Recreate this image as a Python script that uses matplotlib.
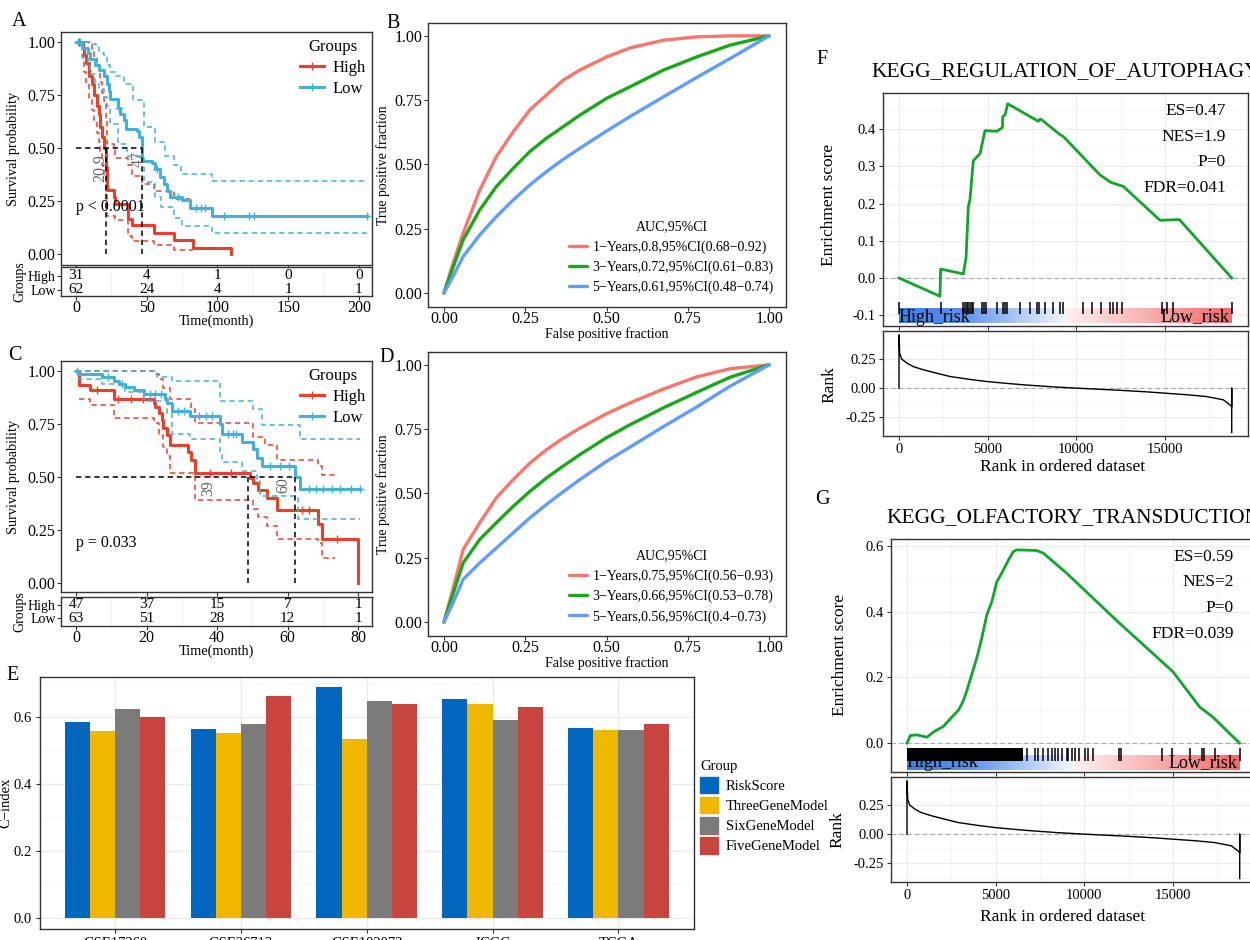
import numpy as np
import matplotlib
matplotlib.use("Agg")
import matplotlib.pyplot as plt
from matplotlib.colors import LinearSegmentedColormap
from matplotlib.lines import Line2D
from matplotlib.patches import Patch

plt.rcParams['font.family'] = ['Liberation Serif', 'DejaVu Serif']
plt.rcParams['axes.unicode_minus'] = False

W, H = 1250, 940

KM_RED = '#E8412B'
KM_BLUE = '#42B2D8'
ROC_COLORS = ['#F8766D', '#18A818', '#619CFF']

# ---------------- A: survival, first cohort ----------------
a_high_t = [0, 4.7, 5.4, 7.3, 9.0, 11.3, 13.0, 14.9, 16.0, 17.2, 18.5, 19.6, 20.9, 21.9,
            26.7, 27.8, 36.5, 39.6, 55.0, 69.6, 82.5, 109.7]
a_high_s = [1.0, 0.97, 0.94, 0.90, 0.84, 0.80, 0.75, 0.70, 0.66, 0.60, 0.55, 0.50, 0.41, 0.30,
            0.27, 0.235, 0.165, 0.135, 0.10, 0.065, 0.03, 0.0]
a_high_up_t = [0, 7.3, 9.0, 11.3, 13.0, 14.9, 16.0, 17.2, 18.5, 19.6, 20.9, 21.9, 26.7, 27.8,
               36.5, 39.6, 47.0, 55.0, 69.6]
a_high_up = [1.0, 1.0, 0.985, 0.96, 0.93, 0.89, 0.86, 0.81, 0.76, 0.72, 0.64, 0.52, 0.49, 0.455,
             0.42, 0.37, 0.33, 0.295, 0.26]
a_high_lo_t = [0, 4.7, 5.4, 7.3, 9.0, 11.3, 13.0, 14.9, 16.0, 17.2, 18.5, 19.6, 20.9, 21.9,
               27.8, 36.5, 39.6, 55.0, 69.6]
a_high_lo = [1.0, 0.91, 0.86, 0.80, 0.73, 0.68, 0.63, 0.57, 0.53, 0.47, 0.42, 0.37, 0.28, 0.18,
             0.16, 0.085, 0.06, 0.04, 0.017]
a_high_ci_end = 82.5
a_high_cens = [2.0]

a_low_t = [0, 4.2, 8.3, 10.1, 13.7, 16.5, 19.6, 21.9, 23.1, 24.3, 29.5, 31.4, 33.7, 35.6, 43.2,
           44.3, 47.0, 53.8, 56.1, 59.7, 62.0, 64.4, 66.7, 75.0, 80.9, 96.2]
a_low_s = [1.0, 0.97, 0.95, 0.92, 0.89, 0.87, 0.84, 0.80, 0.77, 0.73, 0.69, 0.66, 0.63, 0.59, 0.58,
           0.55, 0.44, 0.43, 0.40, 0.365, 0.33, 0.295, 0.27, 0.255, 0.215, 0.18]
a_low_up_t = [0, 10.0, 14.0, 16.5, 19.6, 21.9, 24.3, 27.8, 33.7, 40.0, 48.0, 56.0, 63.0, 69.0, 74.0, 96.2]
a_low_up = [1.0, 0.99, 0.975, 0.95, 0.93, 0.89, 0.86, 0.84, 0.80, 0.725, 0.60, 0.53, 0.46, 0.42,
            0.375, 0.342]
a_low_lo_t = [0, 4.2, 8.3, 10.1, 13.7, 16.5, 19.6, 21.9, 24.3, 30.0, 36.0, 48.0, 56.0, 60.0, 69.0,
              75.0, 96.2]
a_low_lo = [1.0, 0.93, 0.90, 0.85, 0.81, 0.78, 0.74, 0.70, 0.615, 0.52, 0.46, 0.34, 0.27, 0.22,
            0.17, 0.13, 0.097]
a_low_end = 206.0
a_low_cens = [1.5, 3.0, 30.5, 57.0, 72.0, 85.0, 88.0, 91.0, 104.5, 122.0, 125.7, 206.0]

a_medians = [20.9, 47.0]
a_times = [0, 50, 100, 150, 200]
a_risk_high = [31, 4, 1, 0, 0]
a_risk_low = [62, 24, 4, 1, 1]

# ---------------- C: survival, second cohort ----------------
c_high_t = [0, 0.75, 4.1, 10.7, 22.0, 22.5, 23.5, 24.3, 24.8, 25.8, 26.7, 31.9, 32.5, 33.8,
            49.4, 50.3, 51.7, 54.1, 56.9, 68.7, 69.7, 80.1]
c_high_s = [1.0, 0.935, 0.91, 0.87, 0.85, 0.83, 0.80, 0.77, 0.73, 0.70, 0.65, 0.62, 0.58, 0.52,
            0.495, 0.47, 0.44, 0.40, 0.345, 0.28, 0.21, 0.0]
c_high_up_t = [0, 22.0, 23.5, 24.8, 26.7, 32.5, 33.8, 50.3, 53.6, 56.9, 68.7, 69.7]
c_high_up = [1.0, 0.985, 0.96, 0.92, 0.87, 0.82, 0.756, 0.69, 0.65, 0.58, 0.55, 0.51]
c_high_lo_t = [0.75, 4.1, 10.7, 22.0, 23.5, 24.8, 25.8, 26.7, 33.8, 50.3, 51.7, 54.1, 56.9, 68.7, 69.7]
c_high_lo = [0.87, 0.84, 0.78, 0.755, 0.70, 0.64, 0.60, 0.52, 0.39, 0.35, 0.31, 0.27, 0.21, 0.19, 0.12]
c_high_ci_end = 73.5
c_high_cens = [6.0, 12.0, 15.5, 19.0, 38.0, 44.0, 64.0, 66.0, 74.0]

c_low_t = [0, 0.5, 7.4, 10.7, 12.2, 14.0, 16.4, 19.2, 25.3, 25.8, 27.2, 32.4, 40.8, 41.3, 47.0,
           50.3, 51.3, 52.7, 62.1, 63.5]
c_low_s = [1.0, 0.985, 0.97, 0.955, 0.94, 0.925, 0.91, 0.89, 0.87, 0.85, 0.81, 0.79, 0.75, 0.705,
           0.667, 0.63, 0.59, 0.55, 0.50, 0.445]
c_low_up_t = [0, 22.9, 27.2, 40.8, 50.3, 52.7, 63.5]
c_low_up = [1.0, 0.97, 0.955, 0.86, 0.82, 0.745, 0.68]
c_low_lo_t = [0, 0.5, 7.4, 14.0, 19.2, 25.8, 27.2, 32.4, 40.8, 41.3, 47.0, 51.3, 52.2, 63.1]
c_low_lo = [1.0, 0.96, 0.94, 0.90, 0.86, 0.80, 0.705, 0.68, 0.61, 0.57, 0.53, 0.48, 0.41, 0.30]
c_low_end = 80.6
c_low_cens = [0.3, 9.0, 13.0, 21.0, 22.5, 24.0, 29.0, 30.5, 35.0, 37.0, 38.5, 43.0, 44.5, 45.5,
              55.0, 58.0, 60.5, 66.0, 68.0, 70.0, 72.5, 75.0, 78.0, 80.6]

c_medians = [48.9, 62.1]
c_median_labels = ['39', '60']
c_times = [0, 20, 40, 60, 80]
c_risk_high = [47, 37, 15, 7, 1]
c_risk_low = [63, 51, 28, 12, 1]

# ---------------- B / D: time-dependent ROC ----------------
roc_fpr = [0, 0.028, 0.059, 0.11, 0.161, 0.213, 0.264, 0.315, 0.367, 0.418, 0.5, 0.572, 0.675,
           0.777, 0.88, 1.0]
b_tpr = [[0, 0.116, 0.233, 0.40, 0.53, 0.627, 0.712, 0.77, 0.828, 0.867, 0.918, 0.953, 0.983, 0.996, 1.0, 1.0],
         [0, 0.10, 0.207, 0.323, 0.414, 0.485, 0.55, 0.602, 0.647, 0.692, 0.757, 0.802, 0.867, 0.918, 0.964, 1.0],
         [0, 0.065, 0.142, 0.226, 0.297, 0.362, 0.42, 0.472, 0.52, 0.563, 0.63, 0.686, 0.763, 0.838, 0.912, 1.0]]
b_labels = ['1\u2212Years,0.8,95%CI(0.68\u22120.92)',
            '3\u2212Years,0.72,95%CI(0.61\u22120.83)',
            '5\u2212Years,0.61,95%CI(0.48\u22120.74)']

d_tpr = [[0, 0.13, 0.282, 0.386, 0.483, 0.554, 0.618, 0.67, 0.715, 0.754, 0.81, 0.852, 0.906, 0.953, 0.985, 1.0],
         [0, 0.11, 0.23, 0.321, 0.386, 0.45, 0.508, 0.56, 0.607, 0.651, 0.717, 0.767, 0.833, 0.893, 0.952, 1.0],
         [0, 0.075, 0.166, 0.23, 0.288, 0.347, 0.405, 0.457, 0.507, 0.554, 0.625, 0.68, 0.76, 0.836, 0.917, 1.0]]
d_labels = ['1\u2212Years,0.75,95%CI(0.56\u22120.93)',
            '3\u2212Years,0.66,95%CI(0.53\u22120.78)',
            '5\u2212Years,0.56,95%CI(0.4\u22120.73)']

# ---------------- E: C-index ----------------
e_cohorts = ['GSE17260', 'GSE26712', 'GSE102073', 'ICGC', 'TCGA']
e_models = ['RiskScore', 'ThreeGeneModel', 'SixGeneModel', 'FiveGeneModel']
e_colors = ['#0066BE', '#EFB800', '#7B7B7B', '#C8443F']
e_riskscore = [0.586, 0.565, 0.688, 0.654, 0.567]
e_three = [0.558, 0.551, 0.534, 0.638, 0.561]
e_six = [0.623, 0.578, 0.647, 0.590, 0.561]
e_five = [0.600, 0.661, 0.639, 0.630, 0.579]

# ---------------- F / G: GSEA ----------------
f_es_x = [0, 2310, 2350, 3630, 3780, 3910, 4000, 4190, 4570, 4850, 5510, 5830, 5850, 5980, 6130,
          7860, 7950, 8050, 9080, 9270, 11330, 11940, 12650, 14720, 15810, 18760]
f_es_y = [0.0, -0.049, 0.024, 0.011, 0.054, 0.192, 0.21, 0.315, 0.334, 0.396, 0.394, 0.404, 0.434,
          0.438, 0.468, 0.421, 0.427, 0.425, 0.385, 0.380, 0.277, 0.257, 0.246, 0.155, 0.157, 0.0]
f_hits = [0, 2368, 3628, 3722, 3816, 3910, 4004, 4098, 4192, 4662, 4794, 4906, 5508, 5846, 5978,
          6110, 6823, 7387, 7763, 7913, 8233, 8703, 9079, 9230, 10358, 10865, 11373, 11899, 12087,
          12275, 12557, 14813, 15133, 15471, 18762]

g_es_x = [0, 190, 560, 1125, 1500, 2060, 2440, 2900, 3190, 3375, 3660, 3940, 4220, 4500, 4780,
          5060, 5440, 5720, 6000, 6190, 7310, 7690, 9000, 12000, 15000, 16500, 17250, 18750]
g_es_y = [0.0, 0.023, 0.025, 0.018, 0.034, 0.051, 0.074, 0.10, 0.13, 0.16, 0.21, 0.26, 0.32, 0.39,
          0.43, 0.49, 0.527, 0.557, 0.583, 0.588, 0.586, 0.578, 0.517, 0.364, 0.217, 0.11, 0.079, 0.0]
g_hit_block = (0, 6560)
g_hits = [6747, 7217, 7405, 7687, 7969, 8157, 8345, 8533, 8721, 9003, 9097, 9285, 9474, 9700,
          10038, 10226, 10508, 11980, 12050, 14362, 14926, 15960, 16618, 16750, 17370, 18762]

rank_x = [0, 0, 40, 150, 432, 800, 1372, 2000, 2876, 4000, 4944, 6000, 7012, 8500, 10020, 11500,
          12652, 14000, 15002, 16300, 17352, 18292, 18668, 18762, 18762, 18762]
rank_y = [0.0, 0.457, 0.30, 0.25, 0.216, 0.185, 0.158, 0.133, 0.10, 0.075, 0.057, 0.042, 0.029,
          0.013, 0.0, -0.011, -0.02, -0.032, -0.043, -0.057, -0.072, -0.10, -0.144, -0.16, 0.0, -0.38]
n_genes = 18762


def add_ax(l, t, r, b):
    return fig.add_axes([l / W, 1 - b / H, (r - l) / W, (b - t) / H])


def frame(ax, color='#333333', lw=1.0):
    for sp in ax.spines.values():
        sp.set_color(color)
        sp.set_linewidth(lw)


def step(ax, t, s, end, **kw):
    ax.step(list(t) + [end], list(s) + [s[-1]], where='post', **kw)


def surv_at(t, s, x):
    idx = np.searchsorted(t, x, side='right') - 1
    return np.asarray(s)[idx]


fig = plt.figure(figsize=(W / 100, H / 100), dpi=100)


def km_panel(box, tbox, xlim, ylim, tlim, data, times, risk_high, risk_low, pval, medians,
             med_labels, med_label_pos):
    ax = add_ax(*box)
    for (t, s, end, up_t, up, lo_t, lo, ci_end, cens, col) in data:
        step(ax, up_t, up, ci_end, color=col, lw=1.1, ls=(0, (3.5, 2.5)))
        step(ax, lo_t, lo, ci_end, color=col, lw=1.1, ls=(0, (3.5, 2.5)))
        step(ax, t, s, end, color=col, lw=2.2)
        ax.plot(cens, surv_at(t, s, cens), '+', color=col, ms=6, mew=1.0)
    ax.plot([0, medians[-1]], [0.5, 0.5], color='black', lw=1.1, ls=(0, (3.5, 2.5)))
    for m in medians:
        ax.plot([m, m], [0.5, 0], color='black', lw=1.1, ls=(0, (3.5, 2.5)))
    for lab, (lx, ly) in zip(med_labels, med_label_pos):
        ax.text(lx, ly, lab, rotation=90, color='#666666', fontsize=11.5, ha='center', va='center')
    ax.text(0, pval[1], pval[0], fontsize=11.5, ha='left', va='center')
    ax.set_xlim(*xlim)
    ax.set_ylim(*ylim)
    ax.set_yticks([0, 0.25, 0.5, 0.75, 1.0])
    ax.set_yticklabels(['0.00', '0.25', '0.50', '0.75', '1.00'])
    ax.set_xticks(times)
    ax.tick_params(axis='x', labelbottom=False, length=3, color='#333333')
    ax.tick_params(axis='y', labelsize=11.5, length=3, color='#333333', pad=1)
    ax.set_ylabel('Survival probability', fontsize=10.3)
    ax.yaxis.set_label_coords((20 - box[0]) / (box[2] - box[0]), 0.5)
    frame(ax)
    handles = [Line2D([], [], color=KM_RED, lw=2.2, marker='+', ms=6),
               Line2D([], [], color=KM_BLUE, lw=2.2, marker='+', ms=6)]
    ax.legend(handles, ['High', 'Low'], title='Groups', loc='upper right', frameon=False,
              fontsize=12, title_fontsize=12, handlelength=1.4, handletextpad=0.5,
              borderaxespad=0.0, labelspacing=0.3, bbox_to_anchor=(1.0, 1.0))

    tab = add_ax(*tbox)
    tab.set_xlim(*xlim)
    tab.set_ylim(*tlim)
    for x, hv, lv in zip(times, risk_high, risk_low):
        tab.text(x, 1, str(hv), ha='center', va='center', fontsize=11)
        tab.text(x, 0, str(lv), ha='center', va='center', fontsize=11)
    tab.set_xticks(times)
    step_minor = (times[1] - times[0]) / 2
    tab.set_xticks([x + step_minor for x in times[:-1]], minor=True)
    tab.grid(True, which='major', axis='x', color='#E6E6E6', lw=0.9)
    tab.grid(True, which='minor', axis='x', color='#F0F0F0', lw=0.6)
    tab.tick_params(which='minor', length=0)
    tab.set_yticks([1, 0])
    tab.set_yticklabels(['High', 'Low'])
    tab.tick_params(axis='y', labelsize=10, length=3, pad=1, color='#333333')
    tab.tick_params(axis='x', labelsize=11.5, length=3, pad=0, color='#333333')
    tab.set_ylabel('Groups', fontsize=10, labelpad=1)
    tab.set_xlabel('Time(month)', fontsize=10.3, labelpad=-1)
    frame(tab)
    return ax


km_panel((61, 32, 372, 265), (61, 267, 372, 296), (-10.6, 209.2), (-0.052, 1.047), (-0.43, 1.64),
         [(a_high_t, a_high_s, a_high_t[-1], a_high_up_t, a_high_up, a_high_lo_t, a_high_lo,
           a_high_ci_end, a_high_cens, KM_RED),
          (a_low_t, a_low_s, a_low_end, a_low_up_t, a_low_up, a_low_lo_t, a_low_lo,
           a_low_end, a_low_cens, KM_BLUE)],
         a_times, a_risk_high, a_risk_low, ('p < 0.0001', 0.22), a_medians,
         ['20.9', '47'], [(17, 0.405), (44, 0.45)])

km_panel((61, 361, 372, 592), (61, 597, 372, 626), (-4.26, 83.97), (-0.042, 1.047), (-0.615, 1.615),
         [(c_high_t, c_high_s, c_high_t[-1], c_high_up_t, c_high_up, c_high_lo_t, c_high_lo,
           c_high_ci_end, c_high_cens, KM_RED),
          (c_low_t, c_low_s, c_low_end, c_low_up_t, c_low_up, c_low_lo_t, c_low_lo,
           c_low_end, c_low_cens, KM_BLUE)],
         c_times, c_risk_high, c_risk_low, ('p = 0.033', 0.19), c_medians,
         c_median_labels, [(37.4, 0.45), (58.7, 0.46)])


def roc_panel(box, tprs, labels):
    ax = add_ax(*box)
    for tpr, lab, col in zip(tprs, labels, ROC_COLORS):
        ax.plot(roc_fpr, tpr, color=col, lw=2.4, label=lab, solid_capstyle='round',
                solid_joinstyle='round')
    ax.set_xlim(-0.049, 1.052)
    ax.set_ylim(-0.054, 1.05)
    ticks = [0, 0.25, 0.5, 0.75, 1.0]
    labs = ['0.00', '0.25', '0.50', '0.75', '1.00']
    ax.set_xticks(ticks)
    ax.set_xticklabels(labs)
    ax.set_yticks(ticks)
    ax.set_yticklabels(labs)
    ax.tick_params(labelsize=11.5, length=3, pad=1, color='#333333')
    ax.tick_params(axis='x', pad=0)
    ax.set_xlabel('False positive fraction', fontsize=10, labelpad=0)
    ax.set_ylabel('True positive fraction', fontsize=10, labelpad=3)
    frame(ax)
    ax.legend(title='AUC,95%CI', loc='lower right', frameon=False, fontsize=10, title_fontsize=10,
              handlelength=1.25, handletextpad=0.4, labelspacing=0.5, borderaxespad=0.5,
              bbox_to_anchor=(1.0, 0.0))
    return ax


roc_panel((428, 23, 786, 307), b_tpr, b_labels)
roc_panel((428, 352, 786, 636), d_tpr, d_labels)

# ---------------- E ----------------
ax_e = add_ax(40, 677, 694, 929)
xpos = np.arange(1, len(e_cohorts) + 1)
for i, (vals, col) in enumerate(zip([e_riskscore, e_three, e_six, e_five], e_colors)):
    ax_e.bar(xpos + (i - 1.5) * 0.2, vals, width=0.2, color=col, zorder=3)
ax_e.set_xlim(0.404, 5.6)
ax_e.set_ylim(-0.033, 0.719)
ax_e.set_yticks([0, 0.2, 0.4, 0.6])
ax_e.set_yticklabels(['0.0', '0.2', '0.4', '0.6'])
ax_e.set_yticks([0.1, 0.3, 0.5, 0.7], minor=True)
ax_e.set_xticks(xpos)
ax_e.set_xticklabels(e_cohorts)
ax_e.grid(True, which='major', color='#EBEBEB', lw=1.0, zorder=0)
ax_e.grid(True, which='minor', axis='y', color='#F4F4F4', lw=0.6, zorder=0)
ax_e.tick_params(which='minor', length=0)
ax_e.tick_params(labelsize=10.5, length=3, pad=3, color='#333333')
ax_e.set_ylabel('C\u2212index', fontsize=10.5)
ax_e.yaxis.set_label_coords((12 - 40) / 654, 0.5)
frame(ax_e)
fig.legend([Patch(color=c) for c in e_colors], e_models, title='Group', loc='upper left',
           bbox_to_anchor=(687 / W, 1 - 747 / H), frameon=False, fontsize=10.5, title_fontsize=10.5,
           handlelength=1.25, handleheight=1.35, labelspacing=0.26, handletextpad=0.5,
           alignment='left')

# ---------------- F / G ----------------
band_cmap = LinearSegmentedColormap.from_list(
    'band', [(0, '#3D7CE6'), (0.18, '#5A90EA'), (0.499, '#F3F7FF'), (0.501, '#FFF2F2'), (1, '#F16A6A')])


def gsea_panel(top_box, bot_box, title, title_y, es_x, es_y, hits, block, ylim, yticks, tick_span,
               band_span, stats, stats_y, text_y, ylab_x, ylab_es_y, ylab_rank_y, xlab_y):
    ax = add_ax(*top_box)
    ax.axhline(0, color='#A8A8A8', lw=0.8, ls=(0, (4, 3)), zorder=1)
    grad = np.linspace(0, 1, 400).reshape(1, -1)
    ax.imshow(grad, cmap=band_cmap, aspect='auto', extent=[0, n_genes, band_span[0], band_span[1]],
              zorder=2)
    if block is not None:
        ax.fill_between(block, tick_span[0], tick_span[1], color='black', lw=0, zorder=3)
    ax.vlines(hits, tick_span[0], tick_span[1], color='black', lw=1.1, zorder=3)
    ax.plot(es_x, es_y, color='#10A52C', lw=2.0, zorder=4)
    ty = (band_span[0] + band_span[1]) / 2 + text_y
    ax.text(0, ty, 'High_risk', fontsize=13, ha='left', va='center', zorder=5)
    ax.text(18620, ty, 'Low_risk', fontsize=13, ha='right', va='center', zorder=5)
    for s, y in zip(stats, stats_y):
        ax.text(18440, y, s, fontsize=12.5, ha='right', va='center', zorder=5)
    ax.set_xlim(-902, 19680)
    ax.set_ylim(*ylim)
    ax.set_yticks(yticks[0])
    ax.set_yticklabels(yticks[1])
    ax.set_xticks([0, 5000, 10000, 15000])
    ax.set_xticks([2500, 7500, 12500, 17500], minor=True)
    ax.set_yticks(yticks[2], minor=True)
    ax.tick_params(axis='x', labelbottom=False, length=3, color='#333333')
    ax.tick_params(axis='y', labelsize=10.5, length=3, pad=2, color='#333333')
    ax.tick_params(which='minor', length=0)
    ax.grid(True, which='major', color='#EBEBEB', lw=0.9, zorder=0)
    ax.grid(True, which='minor', color='#F5F5F5', lw=0.6, zorder=0)
    ax.set_axisbelow(True)
    frame(ax)

    ax2 = add_ax(*bot_box)
    ax2.axhline(0, color='#A8A8A8', lw=0.8, ls=(0, (4, 3)), zorder=1)
    ax2.plot(rank_x, rank_y, color='black', lw=1.0, zorder=3)
    ax2.set_xlim(-902, 19680)
    ax2.set_ylim(-0.41, 0.49)
    ax2.set_yticks([-0.25, 0, 0.25])
    ax2.set_yticklabels(['-0.25', '0.00', '0.25'])
    ax2.set_yticks([-0.375, -0.125, 0.125, 0.375], minor=True)
    ax2.set_xticks([0, 5000, 10000, 15000])
    ax2.set_xticks([2500, 7500, 12500, 17500], minor=True)
    ax2.tick_params(labelsize=10.5, length=3, pad=2, color='#333333')
    ax2.tick_params(which='minor', length=0)
    ax2.grid(True, which='major', color='#EBEBEB', lw=0.9, zorder=0)
    ax2.grid(True, which='minor', color='#F5F5F5', lw=0.6, zorder=0)
    ax2.set_axisbelow(True)
    frame(ax2)

    cx = (top_box[0] + top_box[2]) / 2
    fig.text(cx / W, 1 - title_y / H, title, fontsize=15.5, ha='center', va='center')
    fig.text(ylab_x[0] / W, 1 - ylab_es_y / H, 'Enrichment score', fontsize=12.5, rotation=90,
             ha='center', va='center')
    fig.text(ylab_x[1] / W, 1 - ylab_rank_y / H, 'Rank', fontsize=12.5, rotation=90,
             ha='center', va='center')
    fig.text(1063 / W, 1 - xlab_y / H, 'Rank in ordered dataset', fontsize=12.5,
             ha='center', va='center')


gsea_panel((883, 93, 1248, 326), (883, 331, 1248, 436), 'KEGG_REGULATION_OF_AUTOPHAGY', 72,
           f_es_x, f_es_y, f_hits, None, (-0.129, 0.497),
           ([-0.1, 0, 0.1, 0.2, 0.3, 0.4], ['-0.1', '0.0', '0.1', '0.2', '0.3', '0.4'],
            [-0.05, 0.05, 0.15, 0.25, 0.35, 0.45]),
           (-0.098, -0.065), (-0.121, -0.081),
           ['ES=0.47', 'NES=1.9', 'P=0', 'FDR=0.041'], [0.448, 0.379, 0.311, 0.242], -0.004,
           (829, 829), 205, 385, 467)

gsea_panel((891, 539, 1256, 772), (891, 777, 1256, 882), 'KEGG_OLFACTORY_TRANSDUCTION', 518,
           g_es_x, g_es_y, g_hits, g_hit_block, (-0.088, 0.621),
           ([0, 0.2, 0.4, 0.6], ['0.0', '0.2', '0.4', '0.6'], [0.1, 0.3, 0.5]),
           (-0.055, -0.015), (-0.082, -0.037),
           ['ES=0.59', 'NES=2', 'P=0', 'FDR=0.039'], [0.567, 0.491, 0.412, 0.332], 0.0,
           (840, 837), 655, 830, 917)

# panel letters
for lab, x, y in [('A', 19, 22), ('B', 393, 23), ('C', 15, 355), ('D', 387, 358),
                  ('E', 13, 675), ('F', 822, 60), ('G', 822, 500)]:
    fig.text(x / W, 1 - y / H, lab, fontsize=14.5, ha='center', va='center')

fig.savefig('out.png', dpi=100)
